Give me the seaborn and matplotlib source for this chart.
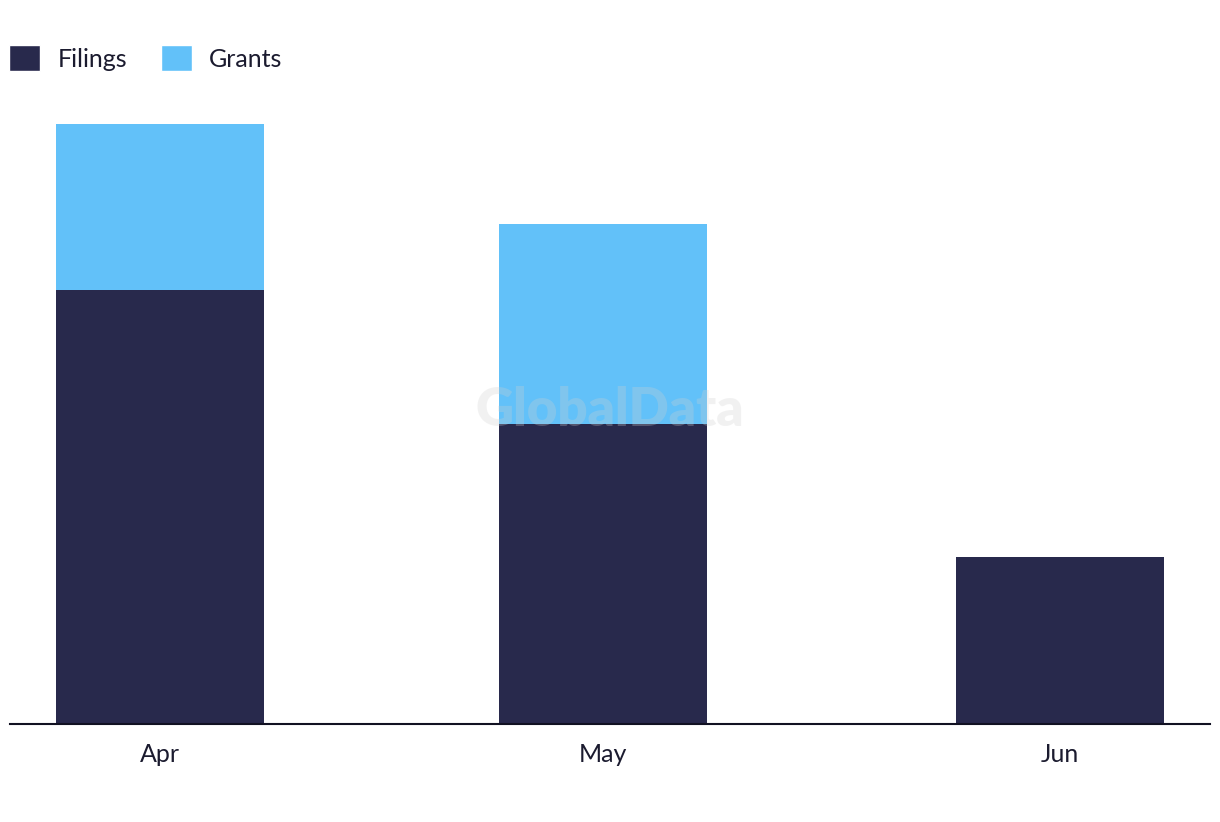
import matplotlib
matplotlib.use("Agg")
import matplotlib.pyplot as plt
import matplotlib.dates as mdates
from matplotlib.patches import Patch
import seaborn as sns
import pandas as pd
import numpy as np
import datetime as dt

# Data
months = ["Apr", "May", "Jun"]
month_dates = [dt.date(2024, 4, 1), dt.date(2024, 5, 1), dt.date(2024, 6, 1)]
filings = [13, 9, 5]
grants = [5, 6, 0]

NAVY = "#28294C"
BLUE = "#62C1F9"
TEXT = "#1B1B2F"

sns.set_theme(style="white")
plt.rcParams["font.family"] = ["Lato", "DejaVu Sans"]

xnum = mdates.date2num(month_dates)
df = pd.DataFrame({"x": xnum, "filings": filings, "grants": grants})
df["total"] = df["filings"] + df["grants"]

fig = plt.figure(figsize=(12.2, 8.22), dpi=100)
W, H = 1220, 822
ax = fig.add_axes([10 / W, (H - 723.5) / H, 1200 / W, (723.5 - 57) / H])

width_days = 14.1
min_gap = np.min(np.diff(xnum))
sns.barplot(data=df, x="x", y="total", native_scale=True, orient="x",
            width=width_days / min_gap, color=BLUE, saturation=1,
            errorbar=None, linewidth=0, ax=ax)
sns.barplot(data=df, x="x", y="filings", native_scale=True, orient="x",
            width=width_days / min_gap, color=NAVY, saturation=1,
            errorbar=None, linewidth=0, ax=ax)

span_pad = 10.2
ax.set_xlim(xnum[0] - span_pad, xnum[-1] + span_pad)
ax.set_ylim(0, 20)
ax.set_xticks(xnum)
ax.set_xticklabels(months, fontsize=18, color=TEXT)
ax.set_yticks([])
ax.set_xlabel("")
ax.set_ylabel("")
ax.tick_params(axis="x", length=0, pad=14)
for s in ["top", "right", "left"]:
    ax.spines[s].set_visible(False)
ax.spines["bottom"].set_color("#111122")
ax.spines["bottom"].set_linewidth(1.5)
ax.grid(False)

# Watermark
fig.text(610 / W, 1 - 410 / H, "GlobalData", fontsize=38, fontweight="heavy",
         color="#d0d0d0", alpha=0.28, ha="center", va="center",
         family=["Lato", "DejaVu Sans"])

handles = [Patch(facecolor=NAVY, label="Filings"), Patch(facecolor=BLUE, label="Grants")]
fig.legend(handles=handles, loc="upper left", bbox_to_anchor=(9 / W, 1 - 45 / H),
           frameon=False, fontsize=18, handlelength=1.25, handleheight=1.25,
           handletextpad=0.68, columnspacing=1.35, ncol=2, borderpad=0,
           borderaxespad=0, labelcolor=TEXT)

fig.savefig("out.png", dpi=100)
